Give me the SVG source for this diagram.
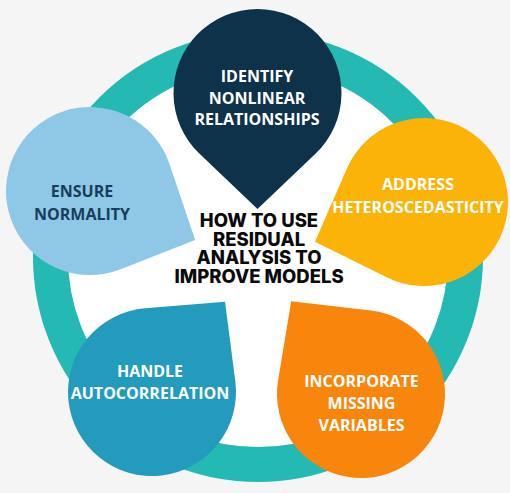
<svg xmlns="http://www.w3.org/2000/svg" xmlns:xlink="http://www.w3.org/1999/xlink" width="510" height="493" viewBox="0 0 510 493">
  <defs>
    <path id="drop" d="M116 0 L60.83 -57.93 A84 84 0 1 0 60.83 57.93 Z"/>
    <style>
      .lbl { font-family: "Open Sans", "Liberation Sans", sans-serif; font-weight: 700; font-size: 16px; text-anchor: middle; fill: #ffffff; }
      .dark { fill: #163e5c; }
      .title { font-family: Inter, "Liberation Sans", sans-serif; font-weight: 800; font-size: 18.5px; text-anchor: middle; fill: #0a0a0a; }
    </style>
  </defs>
  <rect x="0" y="0" width="510" height="493" fill="#f5f5f5"/>
  <g id="ring">
    <circle cx="258" cy="257" r="190" fill="#ffffff"/>
    <circle cx="258" cy="257" r="207.5" fill="none" stroke="#24b9b3" stroke-width="35"/>
  </g>
  <g id="connectors"/>
  <g id="node-identify">
    <use xlink:href="#drop" href="#drop" transform="translate(257.5,93) rotate(90)" fill="#0d3249"/>
    <text class="lbl" x="257" y="82">IDENTIFY</text>
    <text class="lbl" x="257" y="104">NONLINEAR</text>
    <text class="lbl" x="257" y="125">RELATIONSHIPS</text>
  </g>
  <g id="node-address">
    <use xlink:href="#drop" href="#drop" transform="translate(424,202) rotate(160)" fill="#fbb308"/>
    <text class="lbl" x="418" y="190">ADDRESS</text>
    <text class="lbl" x="418" y="213">HETEROSCEDASTICITY</text>
  </g>
  <g id="node-ensure">
    <use xlink:href="#drop" href="#drop" transform="translate(90,191) rotate(25)" fill="#8fc8e6"/>
    <text class="lbl dark" x="82" y="197">ENSURE</text>
    <text class="lbl dark" x="82" y="220">NORMALITY</text>
  </g>
  <g id="node-handle">
    <use xlink:href="#drop" href="#drop" transform="translate(152,392) rotate(-51)" fill="#229bbd"/>
    <text class="lbl" x="150" y="377">HANDLE</text>
    <text class="lbl" x="150" y="399">AUTOCORRELATION</text>
  </g>
  <g id="node-incorporate">
    <use xlink:href="#drop" href="#drop" transform="translate(361,394) rotate(-127)" fill="#f8850c"/>
    <text class="lbl" x="361.5" y="387">INCORPORATE</text>
    <text class="lbl" x="361.5" y="409">MISSING</text>
    <text class="lbl" x="361.5" y="431">VARIABLES</text>
  </g>
  <g id="node-title">
    <text class="title" x="259" y="227">HOW TO USE</text>
    <text class="title" x="259" y="245.5">RESIDUAL</text>
    <text class="title" x="259" y="264">ANALYSIS TO</text>
    <text class="title" x="259" y="282.5">IMPROVE MODELS</text>
  </g>
</svg>
